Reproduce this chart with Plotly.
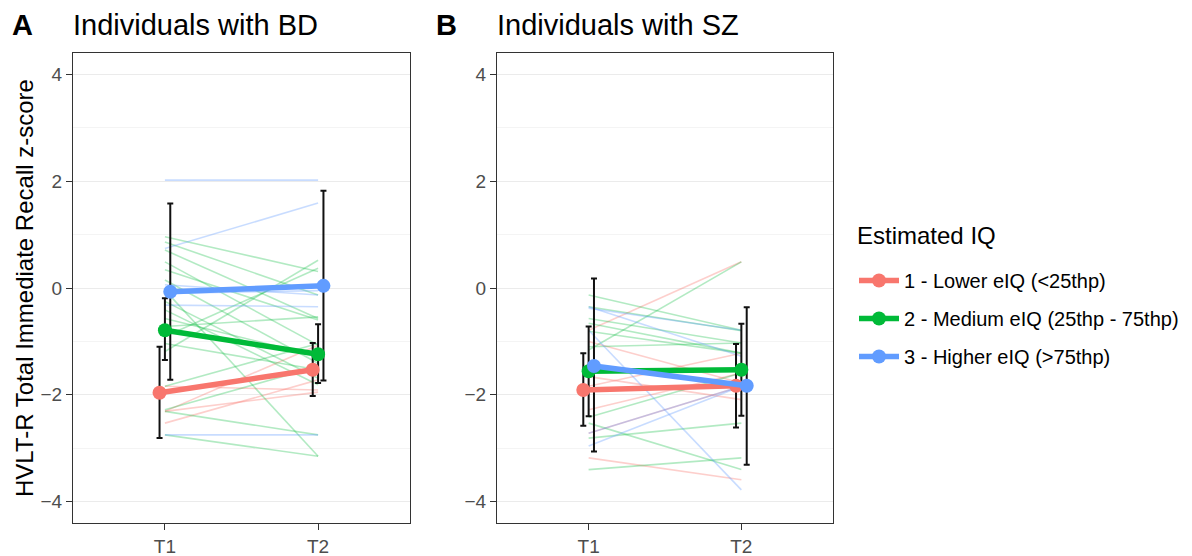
import plotly.graph_objects as go

# ---------------- data ----------------
times = ["T1", "T2"]
groups = ["1 - Lower eIQ (<25thp)", "2 - Medium eIQ (25thp - 75thp)", "3 - Higher eIQ (>75thp)"]
colors = ["#F8766D", "#00BA38", "#619CFF"]
faint = ["rgba(248,118,109,0.35)", "rgba(0,186,56,0.30)", "rgba(97,156,255,0.35)"]

# Panel A: individuals with BD (mean, upper, lower of error bars)
bd_mean_lower = [-1.96, -1.53]
bd_up_lower = [-1.10, -1.03]
bd_lo_lower = [-2.81, -2.02]
bd_mean_medium = [-0.79, -1.24]
bd_up_medium = [-0.19, -0.68]
bd_lo_medium = [-1.35, -1.78]
bd_mean_higher = [-0.07, 0.04]
bd_up_higher = [1.58, 1.82]
bd_lo_higher = [-1.72, -1.73]

# Panel A individual trajectories (T1, T2)
bd_ind_lower_t1 = [-2.31, -2.53, -1.84, -2.31]
bd_ind_lower_t2 = [-1.07, -1.72, -1.91, -1.95]
bd_ind_medium_t1 = [0.96, 0.86, 0.71, 0.49, 0.34, 0.15, -0.04, -0.25, -0.41, -0.57,
                    -0.72, -0.91, -1.04, -1.19, -1.84, -2.28, -2.31, -2.75]
bd_ind_medium_t2 = [0.31, -0.13, -0.57, -1.07, -0.60, -1.41, -3.15, -1.69, -1.81, -1.28,
                    -0.54, 0.37, -1.53, 0.52, -1.04, -1.47, -2.75, -3.15]
bd_ind_higher_t1 = [2.02, 0.74, 0.06, -0.32, -0.10, -2.75]
bd_ind_higher_t2 = [2.02, 1.59, -0.13, -0.35, -0.05, -2.75]

# Panel B: individuals with SZ
sz_mean_lower = [-1.91, -1.83]
sz_up_lower = [-1.22, -1.05]
sz_lo_lower = [-2.58, -2.61]
sz_mean_medium = [-1.56, -1.53]
sz_up_medium = [-0.72, -0.67]
sz_lo_medium = [-2.40, -2.39]
sz_mean_higher = [-1.46, -1.83]
sz_up_higher = [0.18, -0.36]
sz_lo_higher = [-3.06, -3.31]

sz_ind_lower_t1 = [-0.79, -1.00, -1.84, -2.28, -2.72, -3.18, -1.66]
sz_ind_lower_t2 = [0.49, -1.78, -1.22, -1.59, -1.84, -3.59, -2.09]
sz_ind_medium_t1 = [-1.16, -0.13, -0.57, -0.66, -0.81, -1.10, -2.42, -2.81, -2.53, -3.40, -0.35]
sz_ind_medium_t2 = [0.49, -0.79, -1.03, -1.22, -1.22, -1.03, -1.59, -2.53, -3.40, -3.18, -0.80]
sz_ind_higher_t1 = [-0.38, -0.35, -0.79, -2.72, -2.96]
sz_ind_higher_t2 = [-0.79, -1.28, -3.78, -1.84, -1.84]

yticks = [-4, -2, 0, 2, 4]
# ---------------- figure ----------------
FONT = "Liberation Sans, Arial, Helvetica, sans-serif"
W, H = 1192, 556
OX, OY = 8, 8  # page body margin offset


def px(xs):
    return (xs - OX) / W


def py(ys):
    return 1 - (ys - OY) / H


xpos = [1, 2]
dodge = [-0.035, 0.0, 0.035]

fig = go.Figure()

panels = [
    dict(xa="x", ya="y",
         ind=[(bd_ind_lower_t1, bd_ind_lower_t2), (bd_ind_medium_t1, bd_ind_medium_t2),
              (bd_ind_higher_t1, bd_ind_higher_t2)],
         mean=[bd_mean_lower, bd_mean_medium, bd_mean_higher],
         up=[bd_up_lower, bd_up_medium, bd_up_higher],
         lo=[bd_lo_lower, bd_lo_medium, bd_lo_higher]),
    dict(xa="x2", ya="y2",
         ind=[(sz_ind_lower_t1, sz_ind_lower_t2), (sz_ind_medium_t1, sz_ind_medium_t2),
              (sz_ind_higher_t1, sz_ind_higher_t2)],
         mean=[sz_mean_lower, sz_mean_medium, sz_mean_higher],
         up=[sz_up_lower, sz_up_medium, sz_up_higher],
         lo=[sz_lo_lower, sz_lo_medium, sz_lo_higher]),
]

for pi, p in enumerate(panels):
    # individual lines
    for g in range(3):
        t1s, t2s = p["ind"][g]
        xs, ys = [], []
        for a, b in zip(t1s, t2s):
            xs += [xpos[0], xpos[1], None]
            ys += [a, b, None]
        fig.add_trace(go.Scatter(x=xs, y=ys, mode="lines", xaxis=p["xa"], yaxis=p["ya"],
                                 line=dict(color=faint[g], width=1.6),
                                 showlegend=False, hoverinfo="skip"))
    # error bars
    for g in range(3):
        m = p["mean"][g]
        xs = [xv + dodge[g] for xv in xpos]
        fig.add_trace(go.Scatter(
            x=xs, y=m, mode="markers", xaxis=p["xa"], yaxis=p["ya"],
            marker=dict(size=1, color="rgba(0,0,0,0)"),
            error_y=dict(type="data", symmetric=False,
                         array=[u - v for u, v in zip(p["up"][g], m)],
                         arrayminus=[v - l for v, l in zip(m, p["lo"][g])],
                         color="#111111", thickness=2, width=3),
            showlegend=False, hoverinfo="skip"))
    # means
    for g in range(3):
        m = p["mean"][g]
        xs = [xv + dodge[g] for xv in xpos]
        fig.add_trace(go.Scatter(
            x=xs, y=m, mode="lines+markers", xaxis=p["xa"], yaxis=p["ya"],
            line=dict(color=colors[g], width=5.5),
            marker=dict(color=colors[g], size=14),
            name=groups[g], legendgroup=groups[g], showlegend=(pi == 0)))

ydom = [py(523), py(53)]
xdomA = [px(73), px(410)]
xdomB = [px(497), px(833)]


def xax(dom, anchor):
    return dict(domain=dom, anchor=anchor, range=[0.4, 2.6], tickvals=xpos, ticktext=times,
                showgrid=False, zeroline=False, showline=True, mirror=True,
                linecolor="#333333", linewidth=1, ticks="outside", ticklen=6,
                tickcolor="#333333", tickwidth=1,
                tickfont=dict(family=FONT, size=19, color="#4D4D4D"))


def yax(anchor):
    return dict(domain=ydom, anchor=anchor, range=[-4.4, 4.4], tickvals=yticks,
                showgrid=True, gridcolor="#EBEBEB", gridwidth=1.3,
                minor=dict(tickvals=[-3, -1, 1, 3], showgrid=True, gridcolor="#F4F4F4",
                           gridwidth=1, ticks=""),
                zeroline=False, showline=True, mirror=True,
                linecolor="#333333", linewidth=1, ticks="outside", ticklen=6,
                tickcolor="#333333", tickwidth=1,
                tickfont=dict(family=FONT, size=19, color="#4D4D4D"))


def note(text, xs, ys, size, **kw):
    d = dict(text=text, x=px(xs), y=py(ys), xref="paper", yref="paper",
             xanchor="left", yanchor="middle", showarrow=False,
             font=dict(family=FONT, size=size, color="black"))
    d.update(kw)
    return d


fig.update_layout(
    width=W, height=H,
    margin=dict(l=0, r=0, t=0, b=0),
    paper_bgcolor="white", plot_bgcolor="white",
    font=dict(family=FONT, color="black"),
    xaxis=xax(xdomA, "y"), yaxis=yax("x"),
    xaxis2=xax(xdomB, "y2"), yaxis2=yax("x2"),
    legend=dict(x=px(854), y=py(261), xanchor="left", yanchor="top",
                font=dict(family=FONT, size=20, color="black"),
                tracegroupgap=9, itemwidth=40, bgcolor="rgba(0,0,0,0)"),
    showlegend=True,
    annotations=[
        note("<b>A</b>", 10, 25, 29),
        note("Individuals with BD", 71, 25, 29),
        note("<b>B</b>", 434, 25, 29),
        note("Individuals with SZ", 495, 25, 29),
        note("Estimated IQ", 855, 235, 24),
        note("HVLT-R Total Immediate Recall z-score", 24, 288, 24,
             xanchor="center", textangle=-90),
    ],
)

fig.write_html("out.html")
